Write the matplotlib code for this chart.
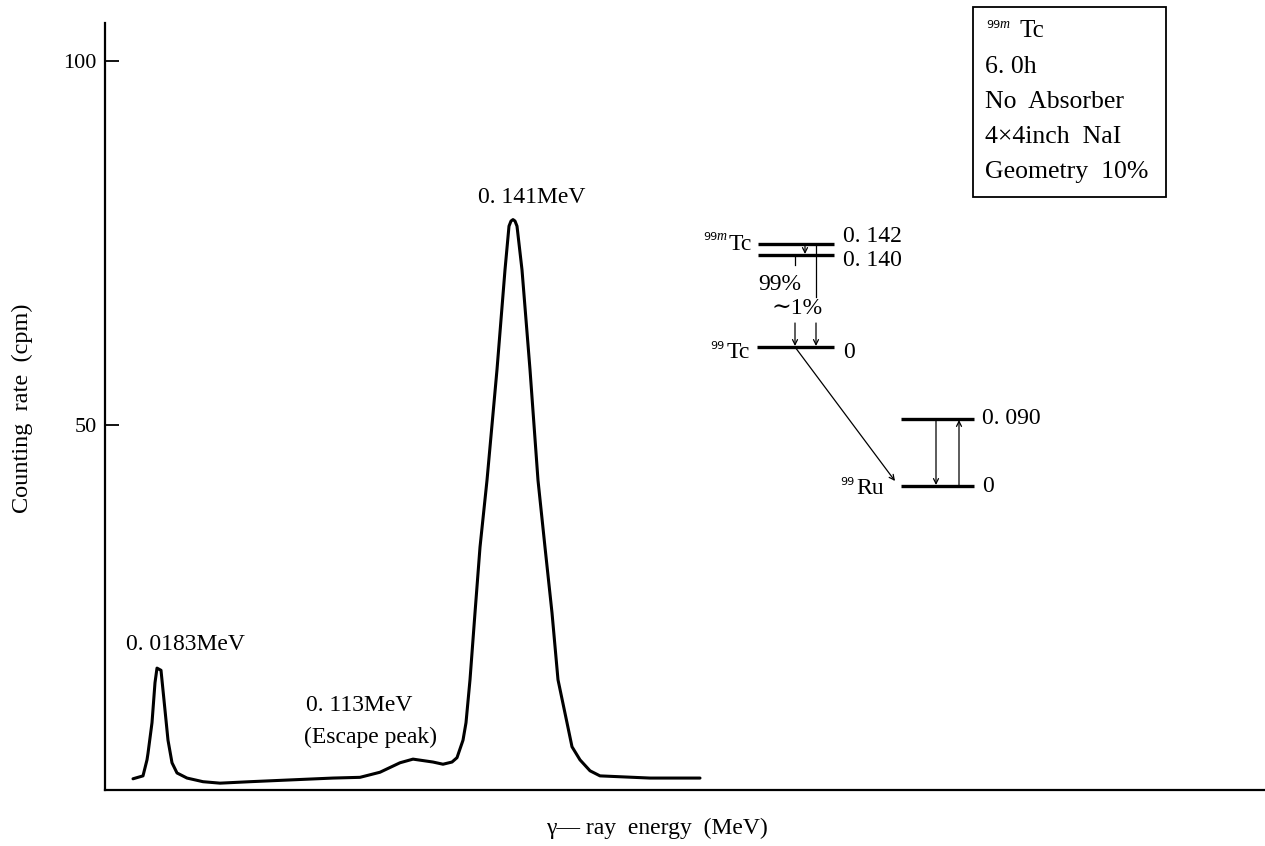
import matplotlib.pyplot as plt
from matplotlib.patches import Rectangle

plt.rcParams['font.family'] = ['Liberation Serif', 'DejaVu Serif']

# gamma spectrum of 99mTc, read channel by channel from the recorder trace
channel = [28, 38, 42, 43, 47, 50, 52, 56, 59, 63, 67, 72, 82, 98, 115, 145,
           178, 228, 255, 275, 295, 308, 328, 338, 347, 352, 358, 361, 365,
           370, 375, 382, 392, 400, 404, 406, 408, 410, 412, 417, 425, 433,
           440, 447, 453, 462, 467, 475, 485, 495, 545, 595]
counts = [1.4, 1.8, 4.0, 4.9, 9.1, 14.6, 16.6, 16.3, 12.2, 6.7, 3.6, 2.2,
          1.5, 1.0, 0.8, 1.0, 1.2, 1.5, 1.6, 2.3, 3.6, 4.1, 3.7, 3.4, 3.7,
          4.3, 6.7, 9.1, 15.0, 24.2, 33.2, 42.4, 57.6, 71.3, 77.3, 78.0,
          78.2, 78.0, 77.3, 71.3, 57.6, 42.4, 33.2, 24.2, 15.0, 9.1, 5.8,
          4.0, 2.5, 1.8, 1.5, 1.5]

y_ticks = [50, 100]

# peak labels: text, channel, counts
peak_labels = [("0. 0183MeV", 80, 19.8),
               ("0. 113MeV", 254, 11.5),
               ("(Escape peak)", 266, 7.1),
               ("0. 141MeV", 427, 81.2)]

source_info = ["6. 0h", "No  Absorber", "4×4inch  NaI", "Geometry  10%"]

tc_levels = ["0. 142", "0. 140", "0"]
ru_levels = ["0. 090", "0"]

FS = 17

W, H = 1265, 846
fig = plt.figure(figsize=(W / 100, H / 100), dpi=100)

ax = fig.add_axes([105 / W, 1 - 790 / H, 1 - 105 / W, (790 - 23) / H])
ax.plot(channel, counts, color='black', lw=2.2, solid_joinstyle='round',
        solid_capstyle='round')
ax.set_xlim(0, 1160)
ax.set_ylim(-0.14, 105.2)
ax.set_xticks([])
ax.set_yticks(y_ticks)
ax.tick_params(axis='y', direction='in', length=10, width=1.3,
               labelsize=16, pad=6)
for s in ['top', 'right']:
    ax.spines[s].set_visible(False)
for s in ['left', 'bottom']:
    ax.spines[s].set_linewidth(1.6)

for txt, x, y in peak_labels:
    ax.text(x, y, txt, ha='center', va='center', fontsize=FS)

fig.text(22 / W, 1 - 408 / H, "Counting  rate  (cpm)", rotation=90,
         ha='center', va='center', fontsize=17.5)
fig.text(657 / W, 1 - 828 / H, "γ— ray  energy  (MeV)",
         ha='center', va='center', fontsize=FS)

# overlay in pixel units for the info box and the decay scheme
ov = fig.add_axes([0, 0, 1, 1])
ov.set_xlim(0, W)
ov.set_ylim(H, 0)
ov.axis('off')
ov.patch.set_alpha(0)


def nuclide(x_right, y, mass, name, meta=False):
    # element symbol right-aligned at x_right, mass number as a small superscript
    t = ov.text(x_right, y, name, fontsize=FS, ha='right', va='center')
    fig.canvas.draw()
    bb = t.get_window_extent()
    x_left = bb.x0 - 2
    if meta:
        ov.text(x_left, y - 8, "m", fontsize=10, ha='right', va='center',
                style='italic')
        x_left -= 9
    ov.text(x_left, y - 7, mass, fontsize=8, ha='right', va='center',
            family='DejaVu Sans')


# source info box
ov.add_patch(Rectangle((973, 7), 193, 190, fill=False, lw=1.3, color='black'))
ov.text(986, 25, "99", fontsize=8, ha='left', va='center', family='DejaVu Sans')
ov.text(1000, 24, "m", fontsize=10, ha='left', va='center', style='italic')
ov.text(1019, 31, "Tc", fontsize=18, ha='left', va='center')
for i, line in enumerate(source_info):
    ov.text(985, 67 + 35 * i, line, fontsize=18.5, ha='left', va='center')


def level(x0, x1, y):
    ov.plot([x0, x1], [y, y], color='black', lw=2.4, solid_capstyle='butt')


def arrow(x0, y0, x1, y1):
    ov.annotate("", xy=(x1, y1), xytext=(x0, y0),
                arrowprops=dict(arrowstyle='->', lw=0.9, color='black',
                                mutation_scale=9, shrinkA=0, shrinkB=0))


def seg(x0, y0, x1, y1):
    ov.plot([x0, x1], [y0, y1], color='black', lw=0.9)


# 99mTc -> 99Tc
level(758, 834, 244)
level(758, 834, 255)
level(757, 834, 347)
for lab, y in zip(tc_levels, [237, 261, 352]):
    ov.text(843, y, lab, fontsize=FS, ha='left', va='center')

arrow(805, 244, 805, 254)
seg(795, 255, 795, 265)
arrow(795, 323, 795, 346)
seg(816, 244, 816, 297)
arrow(816, 323, 816, 346)
ov.text(780, 284, "99%", fontsize=FS, ha='center', va='center')
ov.text(797, 309, "∼1%", fontsize=FS, ha='center', va='center')

nuclide(752, 244, "99", "Tc", meta=True)
nuclide(750, 353, "99", "Tc")

# 99Tc -> 99Ru beta decay
arrow(795, 347, 895, 481)

level(901, 974, 419)
level(901, 974, 486)
for lab, y in zip(ru_levels, [419, 487]):
    ov.text(982, y, lab, fontsize=FS, ha='left', va='center')
arrow(936, 419, 936, 485)
arrow(959, 486, 959, 420)
nuclide(884, 489, "99", "Ru")

fig.savefig("out.png", dpi=100)
